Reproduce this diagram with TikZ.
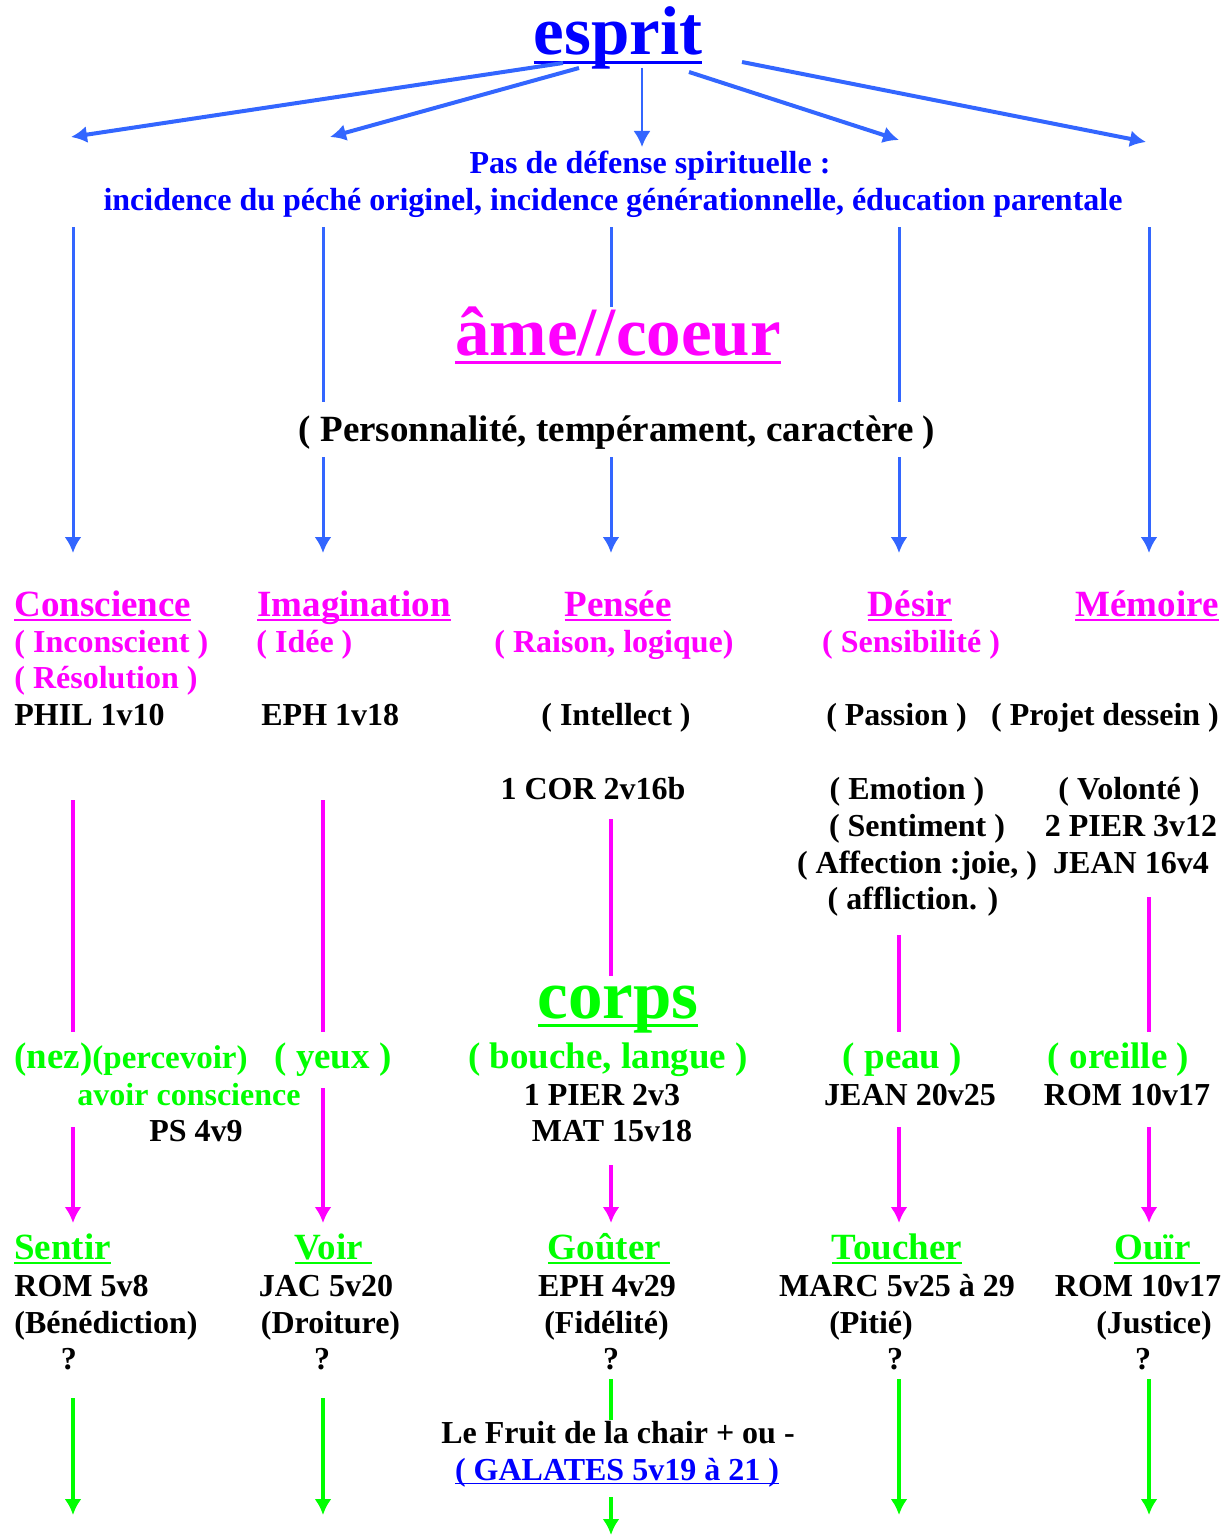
\documentclass[tikz,border=0pt]{standalone}
\usepackage{fontspec}
\setmainfont{Liberation Serif}
\usepackage{tikz}
\usetikzlibrary{arrows.meta}
\definecolor{bleu}{HTML}{0000FF}
\definecolor{bleuF}{HTML}{3366FF}
\definecolor{rose}{HTML}{FF00FF}
\definecolor{vert}{HTML}{00FF00}
\newsavebox\boitesoul
\newcommand{\souligne}[1]{\sbox\boitesoul{#1}\rlap{\rule[-0.13em]{\wd\boitesoul}{0.05em}}\usebox\boitesoul}
\tikzset{
  texte/.style={inner sep=0pt, font=\bfseries\fontsize{16}{19}\selectfont},
  moyen/.style={inner sep=0pt, font=\bfseries\fontsize{18.5}{22}\selectfont},
  petit/.style={inner sep=0pt, text=bleu, font=\bfseries\fontsize{16}{19}\selectfont},
  grand/.style={inner sep=0pt, font=\bfseries\fontsize{34.5}{40}\selectfont},
  fbleu/.style={bleuF, line width=1.5pt},
  frose/.style={rose, line width=2pt},
  fvert/.style={vert, line width=2pt}
}

\begin{document}
\begin{tikzpicture}[>={Latex[length=8pt,width=8.5pt]}, x=0.5pt, y=-0.5pt]
	\useasboundingbox (0,0) rectangle (1231,1536);
	% esprit
	\node[grand,bleu,anchor=base] (esprit) at (618,55) {\souligne{esprit}};
	\node[petit,anchor=base] (pas) at (650,173) {Pas de défense spirituelle :};
	\node[petit,anchor=base] (incid) at (613,210.5) {incidence du péché originel, incidence générationnelle, éducation parentale};
	\coordinate (d1) at (563,63);  \coordinate (f1) at (71,137);
	\coordinate (d2) at (579,68);  \coordinate (f2) at (330,137);
	\coordinate (d3) at (642,68);  \coordinate (f3) at (642,147);
	\coordinate (d4) at (689,72);  \coordinate (f4) at (899,140);
	\coordinate (d5) at (742,62);  \coordinate (f5) at (1146,142);
	\draw[->,fbleu,line width=2pt] (d1) -- (f1);
	\draw[->,fbleu,line width=2pt] (d2) -- (f2);
	\draw[->,fbleu,line width=1.2pt] (d3) -- (f3);
	\draw[->,fbleu,line width=2pt] (d4) -- (f4);
	\draw[->,fbleu,line width=2pt] (d5) -- (f5);
	% ame
	\node[grand,rose,anchor=base] (ame) at (618,355) {\souligne{âme//coeur}};
	\node[moyen,anchor=base] (perso) at (617,441.5) {( Personnalité, tempérament, caractère )};
	\foreach \n/\x in {1/73,2/323,3/611,4/899,5/1149}{
		\coordinate (h\n) at (\x,227);
		\coordinate (b\n) at (\x,553);
		\coordinate (r\n) at (\x,457);
	}
	\coordinate (g2) at (323,402);
	\coordinate (g3) at (611,307);
	\coordinate (g4) at (899,402);
	\draw[->,fbleu] (h1) -- (b1);
	\draw[fbleu] (h2) -- (g2);
	\draw[->,fbleu] (r2) -- (b2);
	\draw[fbleu] (h3) -- (g3);
	\draw[->,fbleu] (r3) -- (b3);
	\draw[fbleu] (h4) -- (g4);
	\draw[->,fbleu] (r4) -- (b4);
	\draw[->,fbleu] (h5) -- (b5);
	% facultes
	\node[moyen,rose,anchor=base west] (conscience) at (14,616) {\souligne{Conscience}};
	\node[texte,rose,anchor=base west] (incons) at (14,652) {( Inconscient )};
	\node[texte,rose,anchor=base west] (resol) at (14,688) {( Résolution )};
	\node[texte,anchor=base west] (phil) at (14,725.5) {PHIL 1v10};
	\node[moyen,rose,anchor=base west] (imagin) at (257,616) {\souligne{Imagination}};
	\node[texte,rose,anchor=base west] (idee) at (256,652) {( Idée )};
	\node[texte,anchor=base west] (eph1) at (261,725.5) {EPH 1v18};
	\node[moyen,rose,anchor=base] (pensee) at (618,616) {\souligne{Pensée}};
	\node[texte,rose,anchor=base] (raison) at (614,652) {( Raison, logique)};
	\node[texte,anchor=base] (intel) at (616,725.5) {( Intellect )};
	\node[texte,anchor=base] (cor) at (593,799) {1 COR 2v16b};
	\node[moyen,rose,anchor=base] (desir) at (910,616) {\souligne{Désir}};
	\node[texte,rose,anchor=base] (sensib) at (911,652) {( Sensibilité )};
	\node[texte,anchor=base] (passion) at (896.5,725.5) {( Passion )};
	\node[texte,anchor=base] (emotion) at (907,799.5) {( Emotion )};
	\node[texte,anchor=base] (sentim) at (917,836.5) {( Sentiment )};
	\node[texte,anchor=base] (affect) at (917,873) {( Affection :joie, )};
	\node[texte,anchor=base] (afflic) at (913,909.5) {( affliction. )};
	\node[moyen,rose,anchor=base] (memoire) at (1147,616) {\souligne{Mémoire}};
	\node[texte,anchor=base] (projet) at (1105,725.5) {( Projet dessein )};
	\node[texte,anchor=base] (volonte) at (1129,799.5) {( Volonté )};
	\node[texte,anchor=base] (pier3) at (1131,836.5) {2 PIER 3v12};
	\node[texte,anchor=base] (jean16) at (1131,873) {JEAN 16v4};
	% corps
	\node[grand,vert,anchor=base] (corps) at (618,1018) {\souligne{corps}};
	\node[moyen,vert,anchor=base west] (nez) at (14,1068) {(nez){\fontsize{16.5}{19}\selectfont(percevoir)}};
	\node[texte,vert,anchor=base] (avoir) at (189,1105) {avoir conscience};
	\node[texte,anchor=base] (ps) at (196,1141.5) {PS 4v9};
	\node[moyen,vert,anchor=base] (yeux) at (333,1068) {( yeux )};
	\node[moyen,vert,anchor=base] (bouche) at (608,1068) {( bouche, langue )};
	\node[texte,anchor=base] (pier2) at (602,1105) {1 PIER 2v3};
	\node[texte,anchor=base] (mat) at (612,1141.5) {MAT 15v18};
	\node[moyen,vert,anchor=base] (peau) at (902.5,1068) {( peau )};
	\node[texte,anchor=base] (jean20) at (910,1105) {JEAN 20v25};
	\node[moyen,vert,anchor=base] (oreille) at (1118.5,1068) {( oreille )};
	\node[texte,anchor=base] (rom10a) at (1127,1105) {ROM 10v17};
	\foreach \n/\x/\ya/\yb/\yc in {1/73/800/1032/1127,2/323/800/1032/1088,3/611/819/976/1165,4/899/935/1032/1127,5/1149/897/1032/1127}{
		\coordinate (t\n) at (\x,\ya);
		\coordinate (e\n) at (\x,\yb);
		\coordinate (s\n) at (\x,\yc);
		\coordinate (p\n) at (\x,1223);
	}
	\draw[frose] (t1) -- (e1);
	\draw[frose] (t2) -- (e2);
	\draw[frose] (t3) -- (e3);
	\draw[frose] (t4) -- (e4);
	\draw[frose] (t5) -- (e5);
	\draw[->,frose] (s1) -- (p1);
	\draw[->,frose] (s2) -- (p2);
	\draw[->,frose] (s3) -- (p3);
	\draw[->,frose] (s4) -- (p4);
	\draw[->,frose] (s5) -- (p5);
	% sens
	\node[moyen,vert,anchor=base west] (sentir) at (14,1259) {\souligne{Sentir}};
	\node[texte,anchor=base west] (rom5) at (14,1296.5) {ROM 5v8};
	\node[texte,anchor=base west] (bened) at (14,1333) {(Bénédiction)};
	\node[texte,anchor=base] (q1) at (69,1369) {?};
	\node[moyen,vert,anchor=base] (voir) at (333.5,1259) {\souligne{Voir\ }};
	\node[texte,anchor=base] (jac) at (326,1296.5) {JAC 5v20};
	\node[texte,anchor=base] (droit) at (330.5,1333) {(Droiture)};
	\node[texte,anchor=base] (q2) at (322,1369) {?};
	\node[moyen,vert,anchor=base] (gouter) at (609,1259) {\souligne{Goûter\ }};
	\node[texte,anchor=base] (eph4) at (607,1296.5) {EPH 4v29};
	\node[texte,anchor=base] (fidel) at (606.5,1333) {(Fidélité)};
	\node[texte,anchor=base] (q3) at (611,1369) {?};
	\node[moyen,vert,anchor=base] (toucher) at (897,1259) {\souligne{Toucher}};
	\node[texte,anchor=base] (marc) at (897,1296.5) {MARC 5v25 à 29};
	\node[texte,anchor=base] (pitie) at (871,1333) {(Pitié)};
	\node[texte,anchor=base] (q4) at (895,1369) {?};
	\node[moyen,vert,anchor=base] (ouir) at (1157,1259) {\souligne{Ouïr\ }};
	\node[texte,anchor=base] (rom10b) at (1138,1296.5) {ROM 10v17};
	\node[texte,anchor=base] (justice) at (1154,1333) {(Justice)};
	\node[texte,anchor=base] (q5) at (1143,1369) {?};
	\node[texte,anchor=base] (fruit) at (618,1443) {Le Fruit de la chair + ou -};
	\node[texte,bleu,anchor=base] (galates) at (617,1480) {\souligne{( GALATES 5v19 à 21 )}};
	\foreach \n/\x/\ya in {1/73/1398,2/323/1398,3/611/1379,4/899/1379,5/1149/1379}{
		\coordinate (v\n) at (\x,\ya);
		\coordinate (w\n) at (\x,1515);
	}
	\coordinate (w3) at (611,1420);
	\coordinate (k3) at (611,1497);
	\coordinate (z3) at (611,1535);
	\draw[->,fvert] (v1) -- (w1);
	\draw[->,fvert] (v2) -- (w2);
	\draw[fvert] (v3) -- (w3);
	\draw[->,fvert] (k3) -- (z3);
	\draw[->,fvert] (v4) -- (w4);
	\draw[->,fvert] (v5) -- (w5);
\end{tikzpicture}
\end{document}
